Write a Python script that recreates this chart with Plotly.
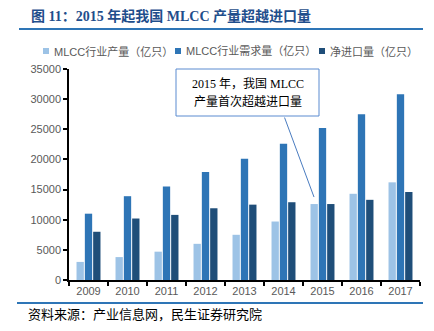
import plotly.graph_objects as go

years = ["2009", "2010", "2011", "2012", "2013", "2014", "2015", "2016", "2017"]
production = [3000, 3800, 4700, 6000, 7500, 9700, 12600, 14300, 16200]
demand = [11000, 13900, 15500, 17900, 20100, 22600, 25200, 27500, 30800]
net_import = [8000, 10200, 10800, 11900, 12500, 12900, 12600, 13300, 14600]

series_names = ["MLCC行业产量（亿只）", "MLCC行业需求量（亿只）", "净进口量（亿只）"]
colors = ["#9DC3E6", "#2E75B6", "#1F4E79"]
ytick_vals = [0, 5000, 10000, 15000, 20000, 25000, 30000, 35000]

title_text = "图 11：2015 年起我国 MLCC 产量超越进口量"
note_lines = ["2015 年，我国 MLCC", "产量首次超越进口量"]
source_text = "资料来源：产业信息网，民生证券研究院"

W, H = 434, 331
L, R, T, B = 69, 420, 69, 280

def px(x):
    return (x - L) / (R - L)

def py(y):
    return (B - y) / (B - T)

fig = go.Figure()
for name, vals, c in zip(series_names, [production, demand, net_import], colors):
    fig.add_trace(go.Bar(x=years, y=vals, name=name, marker_color=c,
                         marker_line_width=0, showlegend=False))

sans = "Liberation Sans, Noto Sans CJK SC, sans-serif"
serif = "Liberation Serif, Noto Sans CJK SC, serif"

fig.update_layout(
    width=W, height=H,
    margin=dict(l=L, r=W - R, t=T, b=H - B, pad=0),
    paper_bgcolor="white", plot_bgcolor="white",
    barmode="group", bargap=0.36, bargroupgap=0.12,
    font=dict(family=sans, size=11, color="#595959"),
    xaxis=dict(type="category", categoryorder="array", categoryarray=years,
               range=[-0.5, len(years) - 0.5], showline=True, linecolor="black", linewidth=1.5,
               ticks="outside", tickson="boundaries", ticklen=4, tickcolor="black",
               tickwidth=1.5, showgrid=False, tickfont=dict(size=11, color="#595959")),
    yaxis=dict(range=[0, 35000], tickvals=ytick_vals, ticktext=[str(v) for v in ytick_vals],
               showline=True, linecolor="black",
               linewidth=1.5, ticks="outside", ticklen=4, tickcolor="black", tickwidth=1.5,
               showgrid=False, zeroline=False, tickfont=dict(size=11, color="#595959")),
)

shapes = []
annotations = []

# title
annotations.append(dict(text="<b>" + title_text + "</b>", xref="paper", yref="paper",
                         x=px(29), y=py(16), xanchor="left", yanchor="middle", showarrow=False,
                         font=dict(family=serif, size=14, color="#1F4E8C")))
shapes.append(dict(type="line", xref="paper", yref="paper", x0=px(19), x1=px(423),
                   y0=py(29), y1=py(29), line=dict(color="#2E75B6", width=2)))

# legend
legend_pos = [(43, 52), (175, 184), (319, 328)]
for (sx, tx), name, c in zip(legend_pos, series_names, colors):
    shapes.append(dict(type="rect", xref="paper", yref="paper", x0=px(sx), x1=px(sx + 6),
                       y0=py(54), y1=py(48), fillcolor=c, line=dict(width=0)))
    annotations.append(dict(text=name, xref="paper", yref="paper", x=px(tx), y=py(51),
                            xanchor="left", yanchor="middle", showarrow=False,
                            font=dict(family=sans, size=11, color="#595959")))

# note box
shapes.append(dict(type="rect", xref="paper", yref="paper", x0=px(176), x1=px(319),
                   y0=py(116), y1=py(69), fillcolor="white",
                   line=dict(color="#5B8BD0", width=1)))
for line, yc in zip(note_lines, [84, 102]):
    annotations.append(dict(text=line, xref="paper", yref="paper", x=px(247.5), y=py(yc),
                            xanchor="center", yanchor="middle", showarrow=False,
                            font=dict(family=serif, size=12, color="black")))
# pointer line to 2015 production bar
annotations.append(dict(text="", x=years.index("2015"), y=production[6], xref="x", yref="y",
                        xshift=-8.5, yshift=7, showarrow=True, arrowhead=0,
                        arrowwidth=1, arrowcolor="#4A7CC0", ax=-30, ay=-81, standoff=0))

# source
shapes.append(dict(type="line", xref="paper", yref="paper", x0=px(17), x1=px(423),
                   y0=py(303), y1=py(303), line=dict(color="#2E75B6", width=2)))
annotations.append(dict(text=source_text, xref="paper", yref="paper", x=px(26), y=py(314),
                        xanchor="left", yanchor="middle", showarrow=False,
                        font=dict(family=serif, size=13, color="black")))

fig.update_layout(shapes=shapes, annotations=annotations)
fig.write_html("out.html")
